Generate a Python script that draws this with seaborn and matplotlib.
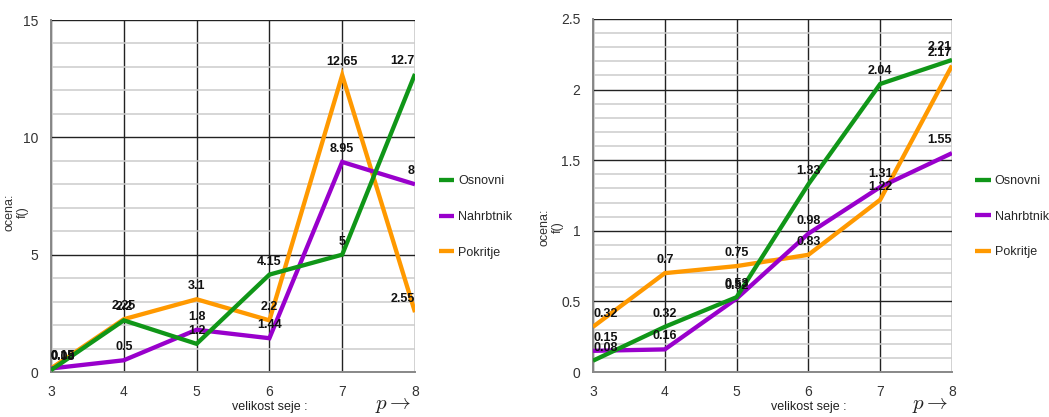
import matplotlib
matplotlib.use("Agg")
import matplotlib.pyplot as plt
from matplotlib.ticker import MultipleLocator
import pandas as pd
import seaborn as sns

# Session size (x axis)
sizes = [3, 4, 5, 6, 7, 8]
series_names = ["Osnovni", "Nahrbtnik", "Pokritje"]

# Left panel scores
left_osnovni = [0.08, 2.2, 1.2, 4.15, 5, 12.7]
left_nahrbtnik = [0.15, 0.5, 1.8, 1.44, 8.95, 8]
left_pokritje = [0.15, 2.25, 3.1, 2.2, 12.65, 2.55]

# Right panel scores
right_osnovni = [0.08, 0.32, 0.53, 1.33, 2.04, 2.21]
right_nahrbtnik = [0.15, 0.16, 0.52, 0.98, 1.31, 1.55]
right_pokritje = [0.32, 0.7, 0.75, 0.83, 1.22, 2.17]

colors = {"Osnovni": "#109618", "Nahrbtnik": "#9900cc", "Pokritje": "#ff9900"}

sns.set_style("white")
plt.rcParams["font.family"] = ["Liberation Sans", "DejaVu Sans"]
plt.rcParams["mathtext.fontset"] = "cm"


def long_frame(values):
    rows = []
    for name, vals in zip(series_names, values):
        for x, v in zip(sizes, vals):
            rows.append({"x": x, "y": v, "serija": name})
    return pd.DataFrame(rows)


def draw_panel(ax, values, ymax, major, minor, ylabel_x, ylabel_y):
    df = long_frame(values)
    # draw order: orange underneath, green on top
    z = {"Pokritje": 3, "Nahrbtnik": 4, "Osnovni": 5}
    for name in ["Pokritje", "Nahrbtnik", "Osnovni"]:
        sub = df[df["serija"] == name]
        sns.lineplot(data=sub, x="x", y="y", ax=ax, color=colors[name],
                     linewidth=3.1, label=name, zorder=z[name],
                     solid_capstyle="butt", solid_joinstyle="miter")

    ax.set_xlim(sizes[0], sizes[-1])
    ax.set_ylim(0, ymax)
    ax.set_xticks(sizes)
    ax.yaxis.set_major_locator(MultipleLocator(major))
    ax.yaxis.set_minor_locator(MultipleLocator(minor))
    ax.yaxis.set_major_formatter(matplotlib.ticker.FuncFormatter(
        lambda v, p: f"{v:g}"))

    ax.grid(True, which="minor", axis="y", color="#cccccc", linewidth=1.1, zorder=0)
    ax.grid(True, which="major", axis="y", color="#222222", linewidth=1.0, zorder=1)
    ax.grid(True, which="major", axis="x", color="#222222", linewidth=1.0, zorder=1)
    ax.set_axisbelow(True)

    for s in ["top", "right"]:
        ax.spines[s].set_visible(False)
    for s in ["left", "bottom"]:
        ax.spines[s].set_color("#888888")
        ax.spines[s].set_linewidth(1.4)

    ax.tick_params(axis="both", which="major", length=6, width=1,
                   color="#666666", labelsize=10, labelcolor="#333333", pad=3)
    ax.tick_params(axis="y", which="minor", length=4, width=1, color="#cccccc")

    # value labels above each point
    for name, vals in zip(series_names, values):
        for i, (x, v) in enumerate(zip(sizes, vals)):
            ha = "left" if i == 0 else ("right" if i == len(sizes) - 1 else "center")
            ax.annotate(f"{v:g}", (x, v), xytext=(0, 5), textcoords="offset points",
                        ha=ha, va="bottom", fontsize=9, fontweight="bold",
                        color="#111111", zorder=10, annotation_clip=False)

    ax.set_xlabel("")
    ax.set_ylabel("ocena:\nf()", fontsize=9, color="#333333", linespacing=1.15,
                  multialignment="center")
    ax.yaxis.set_label_coords(ylabel_x, ylabel_y)
    ax.text(0.60, -0.10, "velikost seje :", transform=ax.transAxes,
            ha="center", va="center", fontsize=9, color="#222222")
    ax.text(0.94, -0.095, r"$p \rightarrow$", transform=ax.transAxes,
            ha="center", va="center", fontsize=15, color="#222222")

    handles, labels = ax.get_legend_handles_labels()
    order = [labels.index(n) for n in series_names]
    ax.legend([handles[i] for i in order], [labels[i] for i in order],
              loc="center left", bbox_to_anchor=(1.065, 0.44), frameon=False,
              fontsize=9, handlelength=1.25, handletextpad=0.3,
              labelspacing=1.9, borderpad=0, borderaxespad=0)


fig = plt.figure(figsize=(10.49, 4.17), dpi=100)
ax1 = fig.add_axes([51 / 1049, 45 / 417, 364 / 1049, 352 / 417])
ax2 = fig.add_axes([593 / 1049, 45 / 417, 359 / 1049, 353 / 417])

draw_panel(ax1, [left_osnovni, left_nahrbtnik, left_pokritje], 15, 5, 1,
           -0.062, 0.455)
draw_panel(ax2, [right_osnovni, right_nahrbtnik, right_pokritje], 2.5, 0.5, 0.1,
           -0.08, 0.41)

fig.savefig("out.png", dpi=100)
